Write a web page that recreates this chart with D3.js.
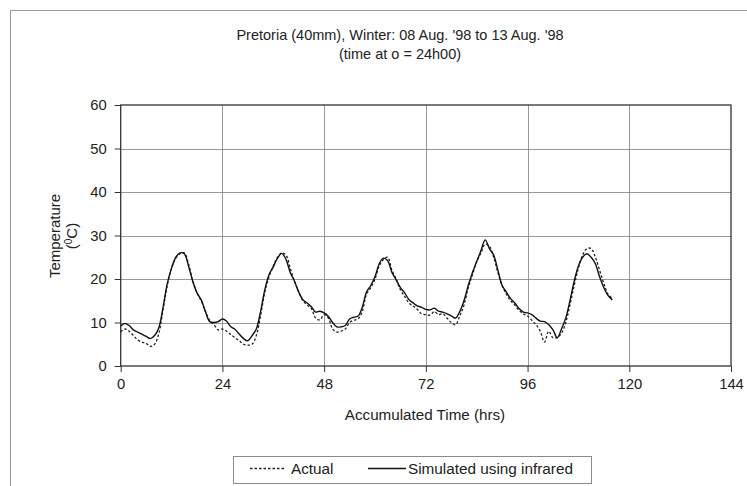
<!DOCTYPE html>
<html><head><meta charset="utf-8">
<script src="https://cdn.jsdelivr.net/npm/d3@7"></script>
<style>body{margin:0;background:#fff}svg{display:block;font-family:"Liberation Sans",Arial,sans-serif}</style>
</head><body><svg id="c" width="747" height="486"></svg>
<script>
const titleLines = ["Pretoria (40mm), Winter: 08 Aug. '98 to 13 Aug. '98", "(time at o = 24h00)"];
const xTicks = [0, 24, 48, 72, 96, 120, 144];
const yTicks = [0, 10, 20, 30, 40, 50, 60];
const hours = d3.range(0, 117);
const simulated = [9.2,9.8,9.3,8.3,7.8,7.3,6.8,6.3,7.0,8.8,13.5,19.0,22.5,25.0,26.0,25.8,23.0,19.5,16.8,15.2,12.5,10.2,10.0,10.2,
10.8,10.3,9.0,8.4,7.3,6.3,5.8,7.0,8.5,12.5,17.5,21.0,22.8,24.8,25.9,24.5,21.5,19.5,17.0,15.2,14.5,13.6,12.4,12.6,
12.2,11.4,10.0,9.0,9.0,9.3,10.8,11.2,11.5,13.5,17.0,18.5,20.5,23.5,24.8,24.2,21.5,19.8,18.0,16.8,15.3,14.5,13.8,13.5,
13.0,12.9,13.3,12.6,12.4,12.0,11.5,11.0,12.5,15.0,18.5,21.5,24.0,26.5,29.0,27.0,25.5,22.0,18.5,17.0,15.5,14.5,13.2,12.4,
12.2,11.8,11.0,10.3,10.2,9.5,8.3,6.5,8.5,11.0,15.0,19.5,23.0,25.0,25.8,25.0,23.5,20.5,18.0,16.2,15.2];
const actual = [7.8,8.5,8.0,7.0,6.0,5.5,5.2,4.5,5.0,7.5,13.0,18.5,22.5,24.8,25.8,26.0,23.5,19.5,16.8,15.0,12.5,10.5,9.5,8.3,
8.5,8.0,7.2,6.5,5.8,5.0,4.8,5.0,7.0,11.5,17.0,20.5,23.0,25.0,26.0,25.5,22.5,19.5,17.0,15.0,14.0,13.2,11.0,10.6,
11.8,11.0,8.5,7.8,8.0,8.5,10.0,10.5,10.8,12.5,16.5,18.0,20.0,23.0,24.5,25.0,22.0,20.0,17.5,16.0,14.5,13.8,13.0,12.0,
11.8,11.7,12.5,11.8,12.0,11.0,10.0,9.5,11.5,14.0,18.0,21.0,24.0,26.0,28.0,27.5,25.0,21.5,18.5,16.5,15.0,14.0,12.8,12.0,
11.5,10.5,9.5,8.0,5.5,8.0,6.5,6.5,7.5,10.0,14.0,18.5,22.5,25.5,27.0,27.0,25.0,22.0,19.0,16.5,15.5];
const seriesNames = ["Actual", "Simulated using infrared"];

const svg = d3.select("#c");
const L = 120.7, R = 731, T = 105, B = 366;
const x = d3.scaleLinear().domain([0, 144]).range([L, R]);
const y = d3.scaleLinear().domain([0, 60]).range([B, T]);

// outer frame (top and left edges visible)
svg.append("path").attr("d", "M10.5,486 L10.5,10.5 L747,10.5").attr("fill", "none").attr("stroke", "#9a9aa8").attr("stroke-width", 1);

// title
svg.append("text").attr("x", 400).attr("y", 40).attr("text-anchor", "middle").attr("font-size", 14.5).attr("fill", "#222").text(titleLines[0]);
svg.append("text").attr("x", 400).attr("y", 59).attr("text-anchor", "middle").attr("font-size", 14.5).attr("fill", "#222").text(titleLines[1]);

// grid
const g = svg.append("g");
g.selectAll(".hg").data(yTicks.filter(v => v > 0 && v < 60)).enter().append("line")
  .attr("x1", L).attr("x2", R).attr("y1", d => Math.round(y(d)) + 0.5).attr("y2", d => Math.round(y(d)) + 0.5)
  .attr("stroke", "#7e7e8c").attr("stroke-width", 0.8);
g.selectAll(".vg").data(xTicks.filter(v => v > 0 && v < 144)).enter().append("line")
  .attr("y1", T).attr("y2", B).attr("x1", d => Math.round(x(d)) + 0.5).attr("x2", d => Math.round(x(d)) + 0.5)
  .attr("stroke", "#7e7e8c").attr("stroke-width", 0.8);

// axes
const xAxis = d3.axisBottom(x).tickValues(xTicks).tickSize(6).tickPadding(6);
const yAxis = d3.axisLeft(y).tickValues(yTicks).tickSize(6).tickPadding(6);
const xa = svg.append("g").attr("transform", `translate(0,${B})`).call(xAxis);
const ya = svg.append("g").attr("transform", `translate(${L},0)`).call(yAxis);
[xa, ya].forEach(a => {
  a.select(".domain").remove();
  a.selectAll("line").attr("stroke", "#333");
  a.selectAll("text").attr("font-size", 14.8).attr("fill", "#222").attr("font-family", "Liberation Sans, Arial, sans-serif");
});
ya.selectAll("text").attr("dx", "-2");

// plot border
svg.append("rect").attr("x", L).attr("y", T).attr("width", R - L).attr("height", B - T)
  .attr("fill", "none").attr("stroke", "#333").attr("stroke-width", 1.3);

// axis titles
svg.append("text").attr("x", 425).attr("y", 420).attr("text-anchor", "middle").attr("font-size", 15.2).attr("fill", "#222").text("Accumulated Time (hrs)");
const yl = svg.append("text").attr("transform", "translate(60,236) rotate(-90)").attr("text-anchor", "middle").attr("font-size", 15).attr("fill", "#222");
yl.append("tspan").attr("x", 0).attr("dy", 0).text("Temperature");
yl.append("tspan").attr("x", 0).attr("dy", 17).text("(");
yl.append("tspan").attr("font-size", 10).attr("dy", -5).text("0");
yl.append("tspan").attr("dy", 5).text("C)");

// lines
const line = d3.line().x((d, i) => x(hours[i])).y(d => y(d)).curve(d3.curveCatmullRom);
svg.append("path").datum(actual).attr("d", line).attr("fill", "none").attr("stroke", "#222").attr("stroke-width", 1.3).attr("stroke-dasharray", "2.5,2");
svg.append("path").datum(simulated).attr("d", line).attr("fill", "none").attr("stroke", "#111").attr("stroke-width", 1.4);

// legend
svg.append("rect").attr("x", 233.5).attr("y", 456.5).attr("width", 358).attr("height", 27).attr("fill", "#fff").attr("stroke", "#8a8a96").attr("stroke-width", 1);
svg.append("line").attr("x1", 250).attr("x2", 286).attr("y1", 468.5).attr("y2", 468.5).attr("stroke", "#222").attr("stroke-width", 1.3).attr("stroke-dasharray", "2.5,2");
svg.append("text").attr("x", 291).attr("y", 474).attr("font-size", 15.3).attr("fill", "#222").text(seriesNames[0]);
svg.append("line").attr("x1", 368).attr("x2", 406).attr("y1", 468.5).attr("y2", 468.5).attr("stroke", "#111").attr("stroke-width", 1.3);
svg.append("text").attr("x", 408).attr("y", 474).attr("font-size", 15.3).attr("fill", "#222").text(seriesNames[1]);
</script></body></html>
